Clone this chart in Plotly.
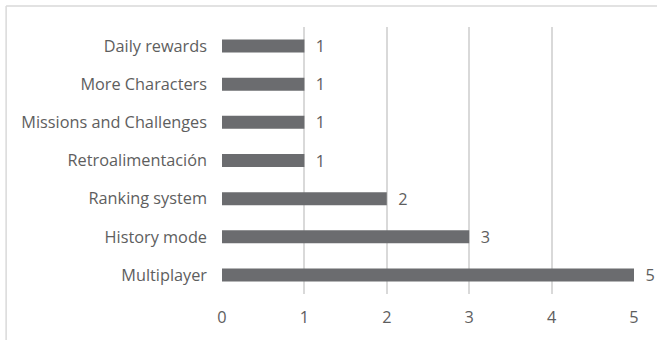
import plotly.graph_objects as go

# Feature requests, listed bottom-to-top as drawn on the category axis
features = [
    "Multiplayer",
    "History mode",
    "Ranking system",
    "Retroalimentación",
    "Missions and Challenges",
    "More Characters",
    "Daily rewards",
]
votes = [5, 3, 2, 1, 1, 1, 1]
x_ticks = [0, 1, 2, 3, 4, 5]

BAR = "#6b6c6f"
TEXT = "#5e5e5e"
GRID = "#d9d9d9"
FONT = "Open Sans"
SIZE = 16.3

fig = go.Figure(
    go.Bar(
        y=features,
        x=votes,
        orientation="h",
        marker=dict(color=BAR, line=dict(width=0)),
        width=0.34,
        text=votes,
        texttemplate="  %{x}",
        textposition="outside",
        constraintext="none",
        textfont=dict(family=FONT, size=SIZE, color=TEXT),
        cliponaxis=False,
    )
)

fig.update_layout(
    width=657,
    height=340,
    margin=dict(l=222, r=23, t=27, b=46),
    paper_bgcolor="white",
    plot_bgcolor="white",
    showlegend=False,
    font=dict(family=FONT, size=SIZE, color=TEXT),
    xaxis=dict(
        range=[0, 5],
        tickvals=x_ticks,
        showgrid=True,
        gridcolor=GRID,
        gridwidth=1.5,
        zeroline=False,
        showline=False,
        ticks="",
        ticklabelstandoff=12,
        tickfont=dict(family=FONT, size=SIZE, color=TEXT),
    ),
    yaxis=dict(
        categoryorder="array",
        categoryarray=features,
        range=[-0.5, len(features) - 0.5],
        showgrid=False,
        zeroline=False,
        showline=False,
        ticks="",
        ticklabelstandoff=14,
        tickfont=dict(family=FONT, size=SIZE, color=TEXT),
    ),
    shapes=[
        # frame around the chart area (top and left edges)
        dict(type="line", xref="paper", yref="paper",
             x0=-0.524, x1=1.06, y0=1.0787, y1=1.0787,
             line=dict(color=GRID, width=1.5)),
        dict(type="line", xref="paper", yref="paper",
             x0=-0.524, x1=-0.524, y0=1.0787, y1=-0.2,
             line=dict(color=GRID, width=1.5)),
    ],
)

fig.write_html("out.html")
